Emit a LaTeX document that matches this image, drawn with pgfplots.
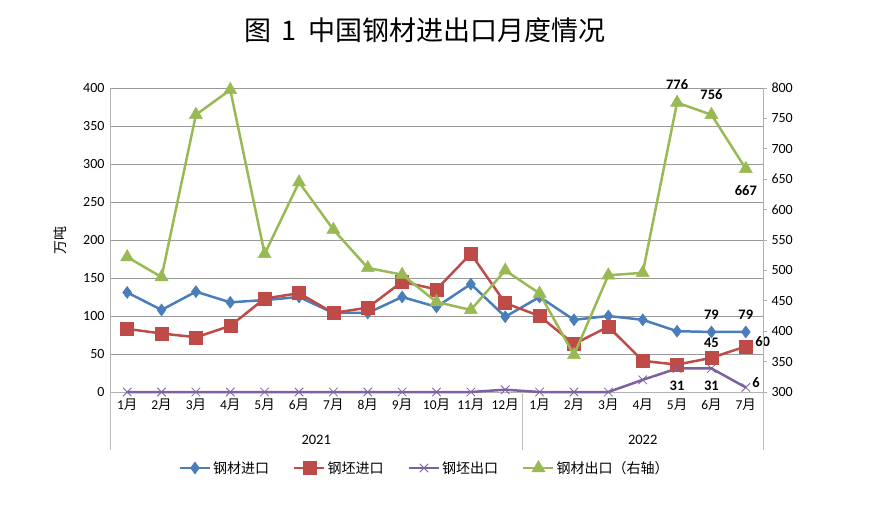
\documentclass[border=0pt]{standalone}
\usepackage{fontspec}
\setmainfont{Carlito}
\newfontfamily\cjk{Noto Sans CJK SC}
\usepackage{pgfplots}
\pgfplotsset{compat=1.18}
\definecolor{cA}{HTML}{4A7EBB}
\definecolor{cB}{HTML}{BE4B48}
\definecolor{cC}{HTML}{7D60A0}
\definecolor{cD}{HTML}{98B954}
\newcommand{\m}[1]{#1{\cjk 月}}

\begin{document}
\begin{tikzpicture}
\path[use as bounding box] (0pt,0pt) rectangle (892pt,517pt);
\node[font=\cjk\fontsize{27}{27}\selectfont] at (425pt,487pt) {图\hspace{10pt}1\hspace{12pt}中国钢材进出口月度情况};

\begin{axis}[
  at={(110pt,125pt)}, anchor=south west,
  width=653pt, height=304pt, scale only axis,
  xmin=-0.5, xmax=18.5, ymin=0, ymax=400,
  ytick={0,50,...,400},
  xtick={0,...,18},
  xticklabels={\m1,\m2,\m3,\m4,\m5,\m6,\m7,\m8,\m9,\m{10},\m{11},\m{12},\m1,\m2,\m3,\m4,\m5,\m6,\m7},
  axis x line*=bottom, axis y line*=left,
  axis line style={gray!60, line width=0.9pt},
  ymajorgrids, grid style={gray!80, line width=0.9pt},
  xtick style={draw=none}, ytick style={draw=none},
  /pgf/number format/assume math mode=true,
  yticklabel style={font=\fontsize{14}{14}\selectfont, xshift=-2pt},
  xticklabel style={font=\fontsize{13.5}{13.5}\selectfont, yshift=-3pt},
  clip=false,
  legend style={at={(0.482,-0.25)}, anchor=center, draw=none, font=\cjk\fontsize{14}{14}\selectfont, legend columns=4, /tikz/every even column/.append style={column sep=22pt}},
  legend cell align=left,
  legend image code/.code={\draw[mark repeat=2, mark phase=2] plot coordinates {(0pt,0pt) (15pt,0pt) (30pt,0pt)};},
]
\addplot[cA, line width=2.5pt, mark=diamond*, mark size=6pt, mark options={line width=0.5pt}] coordinates {
(0,131) (1,108) (2,132) (3,118) (4,121) (5,125) (6,104) (7,104) (8,125) (9,112) (10,142) (11,99)
(12,125) (13,95) (14,100) (15,95) (16,80) (17,79) (18,79)};
\addlegendentry{钢材进口}
\addplot[cB, line width=2.5pt, mark=square*, mark size=6.5pt, mark options={line width=0.5pt}] coordinates {
(0,83) (1,77) (2,72) (3,87) (4,123) (5,130) (6,104) (7,111) (8,145) (9,135) (10,182) (11,117)
(12,100) (13,63) (14,86) (15,41) (16,36) (17,45) (18,60)};
\addlegendentry{钢坯进口}
\addplot[cC, line width=2.5pt, mark=x, mark size=6pt, mark options={line width=0.8pt}] coordinates {
(0,0) (1,0) (2,0) (3,0) (4,0) (5,0) (6,0) (7,0) (8,0) (9,0) (10,0) (11,3)
(12,0) (13,0) (14,0) (15,16) (16,31) (17,31) (18,6)};
\addlegendentry{钢坯出口}
\addlegendimage{cD, line width=2.5pt, mark=triangle*, mark size=7.5pt, mark options={line width=0.5pt}}
\addlegendentry{钢材出口（右轴）}
\draw[gray!50, line width=0.9pt] (axis cs:-0.5,0) -- ++(0pt,-58pt);
\draw[gray!50, line width=0.9pt] (axis cs:11.5,0) -- ++(0pt,-58pt);
\draw[gray!50, line width=0.9pt] (axis cs:18.5,0) -- ++(0pt,-58pt);
\node[font=\fontsize{14.5}{14.5}\selectfont] at (axis cs:5.5,0) [yshift=-48pt] {2021};
\node[font=\fontsize{14.5}{14.5}\selectfont] at (axis cs:15,0) [yshift=-48pt] {2022};
\node[font=\cjk\fontsize{14}{14}\selectfont, rotate=90] at ([xshift=-50pt]rel axis cs:0,0.5) {万吨};
\begin{scope}[font=\bfseries\fontsize{14.5}{14.5}\selectfont]
\node[anchor=south, yshift=9pt] at (axis cs:17,79) {79};
\node[anchor=south, yshift=9pt] at (axis cs:18,79) {79};
\node[anchor=south, yshift=7pt] at (axis cs:17,45) {45};
\node[anchor=west, xshift=6pt, yshift=5pt] at (axis cs:18,60) {60};
\node[anchor=north, yshift=-9pt] at (axis cs:16,31) {31};
\node[anchor=north, yshift=-9pt] at (axis cs:17,31) {31};
\node[anchor=west, xshift=3pt, yshift=5pt] at (axis cs:18,6) {6};
\end{scope}
\end{axis}

\begin{axis}[
  at={(110pt,125pt)}, anchor=south west,
  width=653pt, height=304pt, scale only axis,
  xmin=-0.5, xmax=18.5, ymin=300, ymax=800,
  ytick={300,350,...,800},
  axis x line=none, axis y line*=right,
  axis line style={gray!60, line width=0.9pt},
  ytick style={gray!60, line width=0.9pt}, tick align=outside, major tick length=4pt,
  /pgf/number format/assume math mode=true,
  yticklabel style={font=\fontsize{14}{14}\selectfont, xshift=1pt},
  clip=false,
]
\addplot[cD, line width=2.5pt, mark=triangle*, mark size=7.5pt, mark options={line width=0.5pt}] coordinates {
(0,522) (1,489) (2,756) (3,797) (4,527) (5,645) (6,567) (7,504) (8,493) (9,448) (10,435) (11,500)
(12,462) (13,361) (14,492) (15,496) (16,776) (17,756) (18,667)};
\begin{scope}[font=\bfseries\fontsize{14.5}{14.5}\selectfont]
\node[anchor=south, yshift=9pt] at (axis cs:16,776) {776};
\node[anchor=south, yshift=12pt] at (axis cs:17,756) {756};
\node[anchor=north, yshift=-13pt] at (axis cs:18,667) {667};
\end{scope}
\end{axis}
\end{tikzpicture}
\end{document}
